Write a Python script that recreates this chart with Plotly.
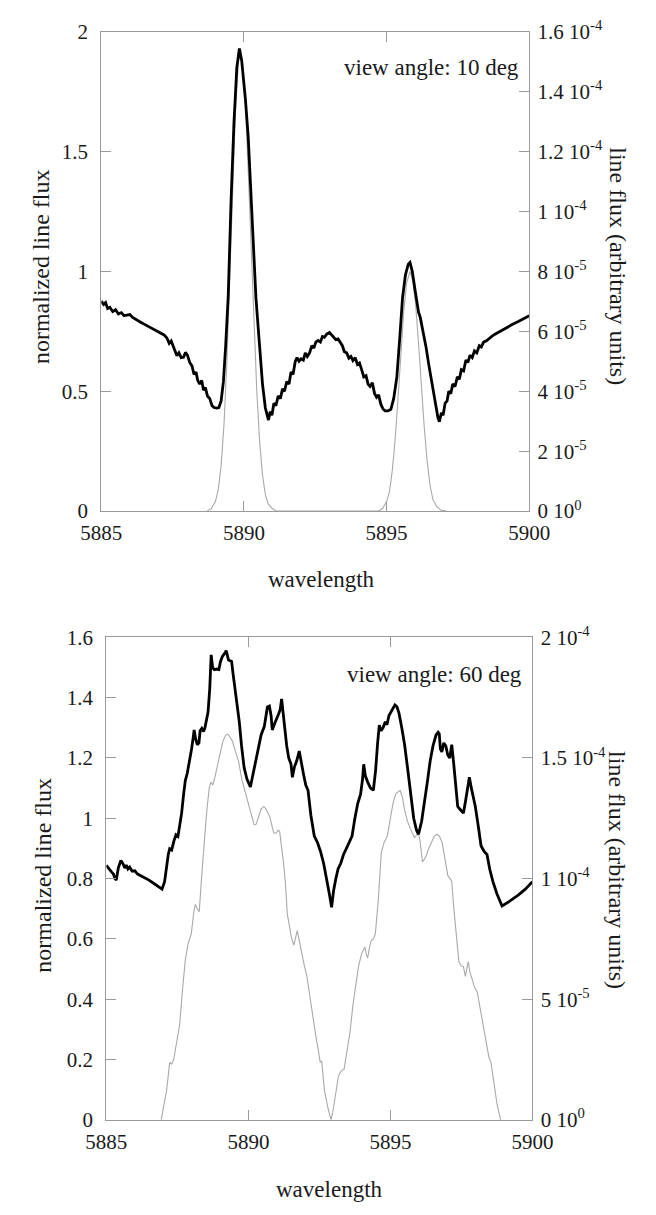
import plotly.graph_objects as go

# ---------------- view angle 10 deg ----------------
# normalized line flux (left axis)
wl_10 = [
    5885.00, 5885.08, 5885.15, 5885.22, 5885.30, 5885.40, 5885.50, 5885.60, 5885.70, 5885.80,
    5885.90, 5886.00, 5886.10, 5886.20, 5886.35, 5886.50, 5886.70, 5886.90, 5887.00, 5887.10,
    5887.20, 5887.30, 5887.38, 5887.45, 5887.52, 5887.58, 5887.65, 5887.72, 5887.80, 5887.88,
    5887.95, 5888.02, 5888.10, 5888.18, 5888.25, 5888.32, 5888.38, 5888.45, 5888.52, 5888.58,
    5888.65, 5888.72, 5888.80, 5888.88, 5888.95, 5889.05, 5889.12, 5889.20, 5889.28, 5889.36,
    5889.45, 5889.55, 5889.65, 5889.75, 5889.84, 5889.92, 5890.05, 5890.15, 5890.28, 5890.42,
    5890.55, 5890.65, 5890.75, 5890.86, 5890.92, 5890.98, 5891.05, 5891.12, 5891.20, 5891.28,
    5891.35, 5891.42, 5891.50, 5891.58, 5891.65, 5891.72, 5891.80, 5891.86, 5891.93, 5892.00,
    5892.08, 5892.15, 5892.22, 5892.30, 5892.38, 5892.45, 5892.52, 5892.60, 5892.68, 5892.75,
    5892.82, 5892.90, 5893.00, 5893.08, 5893.15, 5893.22, 5893.30, 5893.38, 5893.45, 5893.52,
    5893.60, 5893.68, 5893.75, 5893.82, 5893.90, 5893.98, 5894.05, 5894.12, 5894.20, 5894.28,
    5894.35, 5894.42, 5894.50, 5894.58, 5894.65, 5894.72, 5894.80, 5894.88, 5894.95, 5895.05,
    5895.15, 5895.25, 5895.36, 5895.46, 5895.56, 5895.66, 5895.76, 5895.82, 5895.90, 5896.00,
    5896.06, 5896.12, 5896.18, 5896.28, 5896.38, 5896.48, 5896.59, 5896.70, 5896.80, 5896.85,
    5896.92, 5896.98, 5897.05, 5897.12, 5897.18, 5897.25, 5897.32, 5897.40, 5897.48, 5897.55,
    5897.62, 5897.70, 5897.78, 5897.85, 5897.92, 5898.00, 5898.08, 5898.16, 5898.25, 5898.32,
    5898.40, 5898.50, 5898.60, 5898.70, 5898.80, 5898.90, 5899.00, 5899.20, 5899.40, 5899.60,
    5899.80, 5900.00,
]
norm_10 = [
    0.876, 0.862, 0.870, 0.845, 0.850, 0.832, 0.840, 0.822, 0.828, 0.815,
    0.818, 0.820, 0.808, 0.800, 0.790, 0.780, 0.768, 0.756, 0.750, 0.742,
    0.735, 0.722, 0.700, 0.710, 0.690, 0.665, 0.648, 0.660, 0.640, 0.642,
    0.662, 0.650, 0.620, 0.605, 0.570, 0.580, 0.545, 0.530, 0.545, 0.505,
    0.515, 0.480, 0.470, 0.440, 0.432, 0.430, 0.432, 0.460, 0.540, 0.690,
    0.900, 1.300, 1.620, 1.850, 1.930, 1.880, 1.720, 1.560, 1.250, 0.890,
    0.686, 0.530, 0.430, 0.380, 0.415, 0.400, 0.450, 0.440, 0.480, 0.470,
    0.510, 0.500, 0.540, 0.530, 0.580, 0.570, 0.625, 0.640, 0.625, 0.635,
    0.630, 0.660, 0.645, 0.660, 0.690, 0.680, 0.705, 0.712, 0.705, 0.728,
    0.725, 0.738, 0.745, 0.735, 0.728, 0.715, 0.718, 0.700, 0.690, 0.665,
    0.660, 0.638, 0.645, 0.628, 0.640, 0.612, 0.618, 0.592, 0.560, 0.565,
    0.530, 0.520, 0.535, 0.490, 0.475, 0.485, 0.445, 0.425, 0.418, 0.418,
    0.425, 0.470, 0.560, 0.720, 0.890, 0.985, 1.030, 1.037, 1.000, 0.920,
    0.870, 0.830, 0.808, 0.750, 0.686, 0.610, 0.536, 0.450, 0.390, 0.373,
    0.410, 0.400, 0.450, 0.460, 0.500, 0.490, 0.530, 0.520, 0.560, 0.550,
    0.590, 0.585, 0.630, 0.620, 0.650, 0.640, 0.668, 0.660, 0.690, 0.685,
    0.705, 0.710, 0.722, 0.730, 0.738, 0.745, 0.752, 0.765, 0.778, 0.790,
    0.803, 0.815,
]

# line flux (right axis, units of 1e-5)
wl_flux_10 = [
    5888.70, 5888.85, 5889.00, 5889.10, 5889.20, 5889.30, 5889.40, 5889.50, 5889.60, 5889.70,
    5889.80, 5889.87, 5889.95, 5890.05, 5890.15, 5890.25, 5890.35, 5890.45, 5890.55, 5890.65,
    5890.75, 5890.85, 5891.00, 5891.15,
    5894.70, 5894.85, 5895.00, 5895.10, 5895.20, 5895.30, 5895.40, 5895.50, 5895.60, 5895.70,
    5895.82, 5895.92, 5896.02, 5896.12, 5896.22, 5896.32, 5896.42, 5896.52, 5896.62, 5896.75,
    5896.90, 5897.10,
]
flux_10 = [
    0.00, 0.08, 0.32, 0.72, 1.52, 2.88, 4.96, 7.68, 10.64, 13.28,
    14.96, 15.28, 14.96, 13.60, 11.36, 8.80, 6.24, 4.00, 2.32, 1.20,
    0.56, 0.24, 0.08, 0.00,
    0.00, 0.08, 0.32, 0.64, 1.36, 2.40, 3.76, 5.28, 6.64, 7.60,
    8.00, 7.68, 6.88, 5.60, 4.16, 2.80, 1.68, 0.88, 0.40, 0.16,
    0.04, 0.00,
]

# ---------------- view angle 60 deg ----------------
wl_60 = [
    5885.00, 5885.10, 5885.18, 5885.25, 5885.30, 5885.35, 5885.42, 5885.51, 5885.58, 5885.65,
    5885.70, 5885.76, 5885.82, 5885.90, 5886.00, 5886.10, 5886.30, 5886.50, 5886.70, 5886.96,
    5887.05, 5887.12, 5887.18, 5887.23, 5887.30, 5887.38, 5887.45, 5887.52, 5887.60, 5887.65,
    5887.72, 5887.78, 5887.85, 5887.93, 5888.00, 5888.06, 5888.09, 5888.14, 5888.20, 5888.26,
    5888.30, 5888.36, 5888.42, 5888.47, 5888.52, 5888.58, 5888.64, 5888.69, 5888.74, 5888.80,
    5888.88, 5888.96, 5889.02, 5889.08, 5889.15, 5889.22, 5889.30, 5889.41, 5889.46, 5889.52,
    5889.60, 5889.68, 5889.76, 5889.85, 5889.95, 5890.07, 5890.15, 5890.23, 5890.33, 5890.45,
    5890.56, 5890.62, 5890.67, 5890.74, 5890.80, 5890.84, 5890.90, 5890.95, 5891.06, 5891.12,
    5891.17, 5891.22, 5891.28, 5891.35, 5891.42, 5891.50, 5891.55, 5891.62, 5891.70, 5891.79,
    5891.86, 5891.94, 5892.02, 5892.10, 5892.20, 5892.32, 5892.43, 5892.54, 5892.65, 5892.76,
    5892.85, 5892.93, 5893.00, 5893.08, 5893.16, 5893.25, 5893.35, 5893.44, 5893.55, 5893.65,
    5893.75, 5893.85, 5893.95, 5894.02, 5894.06, 5894.12, 5894.20, 5894.30, 5894.40, 5894.48,
    5894.55, 5894.61, 5894.67, 5894.74, 5894.82, 5894.88, 5894.95, 5895.05, 5895.16, 5895.23,
    5895.30, 5895.40, 5895.50, 5895.60, 5895.71, 5895.82, 5895.92, 5895.99, 5896.10, 5896.20,
    5896.30, 5896.40, 5896.50, 5896.61, 5896.68, 5896.72, 5896.76, 5896.81, 5896.88, 5896.95,
    5897.02, 5897.09, 5897.16, 5897.23, 5897.30, 5897.37, 5897.45, 5897.57, 5897.65, 5897.72,
    5897.78, 5897.85, 5897.92, 5897.99, 5898.10, 5898.19, 5898.30, 5898.40, 5898.50, 5898.61,
    5898.75, 5898.93, 5899.20, 5899.50, 5899.75, 5900.00,
]
norm_60 = [
    0.844, 0.830, 0.822, 0.815, 0.800, 0.795, 0.835, 0.860, 0.850, 0.835,
    0.845, 0.832, 0.838, 0.825, 0.826, 0.815, 0.806, 0.795, 0.782, 0.765,
    0.790, 0.840, 0.880, 0.899, 0.895, 0.925, 0.945, 0.940, 0.990, 1.017,
    1.080, 1.125, 1.150, 1.190, 1.230, 1.270, 1.293, 1.265, 1.244, 1.250,
    1.290, 1.298, 1.288, 1.300, 1.330, 1.352, 1.430, 1.542, 1.500, 1.493,
    1.495, 1.493, 1.520, 1.536, 1.545, 1.556, 1.525, 1.520, 1.480, 1.439,
    1.380, 1.320, 1.240, 1.168, 1.130, 1.104, 1.140, 1.179, 1.230, 1.277,
    1.304, 1.340, 1.369, 1.372, 1.340, 1.293, 1.310, 1.320, 1.345, 1.360,
    1.396, 1.340, 1.300, 1.240, 1.200, 1.180, 1.136, 1.170, 1.190, 1.223,
    1.180, 1.147, 1.110, 1.093, 1.010, 0.941, 0.920, 0.890, 0.850, 0.800,
    0.750, 0.705, 0.760, 0.800, 0.833, 0.850, 0.880, 0.898, 0.920, 0.941,
    1.000, 1.049, 1.080, 1.130, 1.179, 1.140, 1.120, 1.100, 1.093, 1.160,
    1.250, 1.309, 1.290, 1.300, 1.320, 1.310, 1.341, 1.360, 1.376, 1.370,
    1.350, 1.300, 1.244, 1.170, 1.082, 1.000, 0.960, 0.947, 0.990, 1.049,
    1.120, 1.190, 1.240, 1.277, 1.285, 1.280, 1.230, 1.220, 1.250, 1.240,
    1.210, 1.200, 1.244, 1.180, 1.100, 1.039, 1.030, 1.017, 1.060, 1.100,
    1.136, 1.100, 1.070, 1.039, 0.970, 0.909, 0.890, 0.880, 0.830, 0.790,
    0.750, 0.709, 0.725, 0.745, 0.765, 0.790,
]

wl_flux_60 = [
    5886.93, 5887.12, 5887.23, 5887.30, 5887.37, 5887.50, 5887.58, 5887.68, 5887.78, 5887.88,
    5887.99, 5888.08, 5888.13, 5888.20, 5888.27, 5888.35, 5888.41, 5888.48, 5888.54, 5888.62,
    5888.68, 5888.75, 5888.82, 5888.96, 5889.10, 5889.20, 5889.27, 5889.35, 5889.44, 5889.55,
    5889.65, 5889.78, 5889.88, 5889.99, 5890.10, 5890.20, 5890.27, 5890.34, 5890.45, 5890.54,
    5890.62, 5890.75, 5890.82, 5890.89, 5890.97, 5891.05, 5891.10, 5891.17, 5891.24, 5891.30,
    5891.37, 5891.45, 5891.51, 5891.60, 5891.66, 5891.72, 5891.78, 5891.85, 5891.95, 5892.06,
    5892.16, 5892.26, 5892.37, 5892.47, 5892.53, 5892.58, 5892.63, 5892.68, 5892.80, 5892.91,
    5893.00, 5893.09, 5893.16, 5893.23, 5893.30, 5893.37, 5893.48, 5893.58, 5893.68, 5893.78,
    5893.88, 5893.99, 5894.10, 5894.15, 5894.20, 5894.27, 5894.33, 5894.40, 5894.47, 5894.57,
    5894.62, 5894.68, 5894.78, 5894.89, 5895.00, 5895.09, 5895.20, 5895.34, 5895.42, 5895.50,
    5895.60, 5895.71, 5895.85, 5895.99, 5896.05, 5896.13, 5896.20, 5896.26, 5896.35, 5896.44,
    5896.54, 5896.64, 5896.73, 5896.82, 5896.92, 5897.02, 5897.10, 5897.16, 5897.23, 5897.30,
    5897.41, 5897.49, 5897.57, 5897.64, 5897.74, 5897.80, 5897.87, 5897.96, 5898.06, 5898.16,
    5898.26, 5898.37, 5898.47, 5898.54, 5898.61, 5898.68, 5898.75, 5898.88,
]
flux_60 = [
    0.00, 1.21, 2.38, 2.31, 2.50, 3.38, 3.93, 5.38, 6.63, 7.31,
    7.71, 8.63, 8.93, 8.75, 8.63, 10.00, 11.09, 12.00, 12.85, 13.75,
    14.00, 13.88, 14.20, 15.00, 15.69, 15.94, 15.99, 15.88, 15.69, 15.25,
    14.88, 14.06, 13.63, 13.11, 12.63, 12.24, 12.25, 12.50, 12.88, 12.99,
    12.88, 12.58, 12.25, 11.90, 11.88, 12.00, 11.96, 11.36, 10.63, 9.88,
    8.53, 8.00, 7.58, 7.24, 7.50, 7.84, 7.50, 7.03, 6.50, 5.95,
    5.13, 4.19, 3.50, 2.84, 2.38, 2.44, 1.88, 1.21, 0.50, 0.00,
    0.50, 1.21, 1.75, 1.96, 2.06, 2.10, 2.88, 3.65, 4.75, 5.68,
    6.38, 6.90, 7.16, 6.88, 6.70, 7.19, 7.44, 7.50, 7.71, 9.06,
    10.25, 11.09, 11.50, 11.76, 12.50, 13.11, 13.53, 13.66, 13.38, 12.85,
    12.38, 12.04, 11.70, 11.90, 11.50, 10.69, 10.81, 10.95, 11.25, 11.50,
    11.75, 11.84, 11.75, 11.50, 10.88, 10.14, 10.00, 9.88, 8.80, 7.98,
    6.56, 6.38, 6.35, 5.95, 6.56, 6.13, 5.81, 5.50, 5.28, 4.63,
    3.93, 3.25, 2.58, 2.38, 1.90, 1.25, 0.68, 0.00,
]

# ---------------- axis ticks ----------------
wl_ticks = [5885, 5890, 5895, 5900]
norm_ticks_10 = [0, 0.5, 1, 1.5, 2]
norm_labels_10 = ["0", "0.5", "1", "1.5", "2"]
norm_ticks_60 = [0, 0.2, 0.4, 0.6, 0.8, 1, 1.2, 1.4, 1.6]
norm_labels_60 = ["0", "0.2", "0.4", "0.6", "0.8", "1", "1.2", "1.4", "1.6"]
flux_ticks_10 = [0, 2, 4, 6, 8, 10, 12, 14, 16]
flux_labels_10 = ["0 10<sup>0</sup>", "2 10<sup>-5</sup>", "4 10<sup>-5</sup>", "6 10<sup>-5</sup>",
                  "8 10<sup>-5</sup>", "1 10<sup>-4</sup>", "1.2 10<sup>-4</sup>",
                  "1.4 10<sup>-4</sup>", "1.6 10<sup>-4</sup>"]
flux_ticks_60 = [0, 5, 10, 15, 20]
flux_labels_60 = ["0 10<sup>0</sup>", "5 10<sup>-5</sup>", "1 10<sup>-4</sup>",
                  "1.5 10<sup>-4</sup>", "2 10<sup>-4</sup>"]

W, H = 656, 1215
FONT = "Liberation Serif, Times New Roman, serif"
AX = "#9a9a9a"
TXT = "#1a1a1a"


def px(x):
    return x / W


def py(y):
    return 1 - y / H


fig = go.Figure()

fig.add_trace(go.Scatter(x=wl_flux_10, y=flux_10, xaxis="x", yaxis="y",
                         mode="lines", line=dict(color="#a9a9a9", width=1.1)))
fig.add_trace(go.Scatter(x=wl_10, y=norm_10, xaxis="x", yaxis="y2",
                         mode="lines", line=dict(color="black", width=2.8)))
fig.add_trace(go.Scatter(x=wl_flux_60, y=flux_60, xaxis="x2", yaxis="y3",
                         mode="lines", line=dict(color="#a9a9a9", width=1.1)))
fig.add_trace(go.Scatter(x=wl_60, y=norm_60, xaxis="x2", yaxis="y4",
                         mode="lines", line=dict(color="black", width=2.8)))

tickfont = dict(family=FONT, size=21, color=TXT)
common_x = dict(range=[5885, 5900], tickvals=wl_ticks, ticks="inside", ticklen=10,
                tickcolor=AX, showline=True, linecolor=AX, linewidth=1.2,
                mirror="ticks", showgrid=False, zeroline=False, tickfont=tickfont,
                ticklabelstandoff=3)
common_y = dict(ticks="inside", ticklen=10, tickcolor=AX, showline=True,
                linecolor=AX, linewidth=1.2, showgrid=False, zeroline=False,
                tickfont=tickfont)

top_x = [px(85.8), px(543)]
top_y = [py(508), py(18)]
bot_x = [px(91.2), px(546.4)]
bot_y = [py(1130), py(637)]

fig.update_layout(
    width=W, height=H,
    margin=dict(l=0, r=0, t=0, b=0),
    paper_bgcolor="white", plot_bgcolor="white",
    showlegend=False,
    xaxis=dict(domain=top_x, anchor="y", **common_x),
    yaxis=dict(domain=top_y, anchor="x", side="right", range=[0, 16],
               tickvals=flux_ticks_10, ticktext=flux_labels_10,
               ticklabelstandoff=3, **common_y),
    yaxis2=dict(domain=top_y, anchor="x", overlaying="y", side="left", range=[0, 2],
                tickvals=norm_ticks_10, ticktext=norm_labels_10,
                mirror=True, ticklabelstandoff=8, **common_y),
    xaxis2=dict(domain=bot_x, anchor="y3", **common_x),
    yaxis3=dict(domain=bot_y, anchor="x2", side="right", range=[0, 20],
                tickvals=flux_ticks_60, ticktext=flux_labels_60,
                ticklabelstandoff=3, **common_y),
    yaxis4=dict(domain=bot_y, anchor="x2", overlaying="y3", side="left", range=[0, 1.6],
                tickvals=norm_ticks_60, ticktext=norm_labels_60,
                mirror=True, ticklabelstandoff=8, **common_y),
)

label_font = dict(family=FONT, size=23, color=TXT)
side_font = dict(family=FONT, size=24, color=TXT)
notes = [
    dict(text="view angle: 10 deg", x=px(534), y=py(55), xanchor="right",
         yanchor="middle", font=label_font),
    dict(text="view angle: 60 deg", x=px(537), y=py(675), xanchor="right",
         yanchor="middle", font=label_font),
    dict(text="wavelength", x=px(321), y=py(578), xanchor="center",
         yanchor="middle", font=label_font),
    dict(text="wavelength", x=px(330), y=py(1201), xanchor="center",
         yanchor="middle", font=label_font),
    dict(text="normalized line flux", x=px(22), y=py(258), xanchor="center",
         yanchor="middle", textangle=-90, font=side_font),
    dict(text="normalized line flux", x=px(24), y=py(880), xanchor="center",
         yanchor="middle", textangle=-90, font=side_font),
    dict(text="line flux (arbitrary units)", x=px(637), y=py(258), xanchor="center",
         yanchor="middle", textangle=90, font=side_font),
    dict(text="line flux (arbitrary units)", x=px(637), y=py(875), xanchor="center",
         yanchor="middle", textangle=90, font=side_font),
]
for n in notes:
    fig.add_annotation(xref="paper", yref="paper", showarrow=False, **n)

fig.write_html("out.html")
